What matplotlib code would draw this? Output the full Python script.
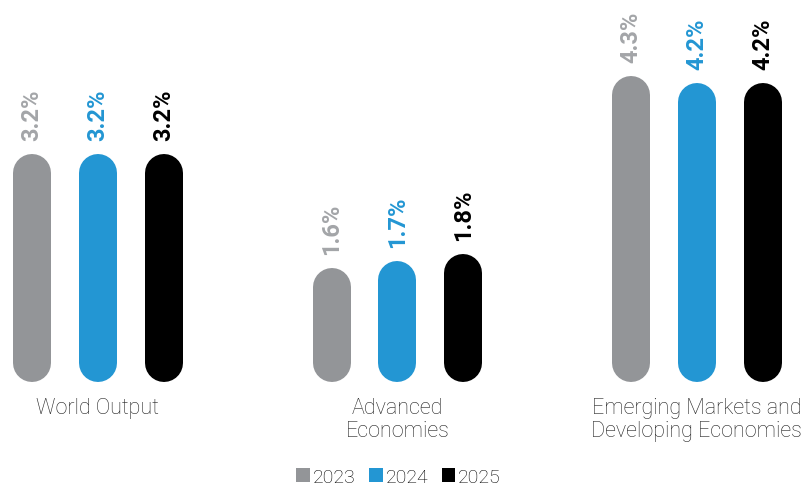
import matplotlib
matplotlib.use("Agg")
import matplotlib.pyplot as plt
from matplotlib.patches import Patch

plt.rcParams['font.family'] = ['Roboto', 'DejaVu Sans']

categories = ['World Output', 'Advanced\nEconomies', 'Emerging Markets and\nDeveloping Economies']
years = ['2023', '2024', '2025']
growth = {
    '2023': [3.2, 1.6, 4.3],
    '2024': [3.2, 1.7, 4.2],
    '2025': [3.2, 1.8, 4.2],
}
bar_colors = ['#939598', '#2396d3', '#000000']
label_colors = ['#a3a5a8', '#2396d3', '#000000']

W, H, DPI = 802, 489, 100
fig = plt.figure(figsize=(W / DPI, H / DPI), dpi=DPI)
ax = fig.add_axes([0, 0.2168, 1, 0.7832])
ax.set_xlim(-0.327, 2.351)
ax.set_ylim(0, 5.38)
ax.axis('off')

# pixel scale so the round caps stay inside the bar height
px_per_y = H * 0.7832 / 5.38
bar_px = 38
r = (bar_px / 2) / px_per_y
offsets = [-0.22, 0.0, 0.22]

for j, yr in enumerate(years):
    for i, v in enumerate(growth[yr]):
        x = i + offsets[j]
        ax.plot([x, x], [r, v - r], color=bar_colors[j], linewidth=bar_px * 72 / DPI,
                solid_capstyle='round')
        ax.text(x, v + 14 / px_per_y, f'{v:.1f}%', rotation=90, ha='center', va='bottom',
                color=label_colors[j], fontsize=17, fontweight='bold')

for i, c in enumerate(categories):
    ax.text(i, -15 / px_per_y, c, ha='center', va='top', fontsize=15.5,
            fontweight='light', color='#222222', linespacing=1.15)

handles = [Patch(facecolor=bar_colors[j], label=yr) for j, yr in enumerate(years)]
fig.legend(handles=handles, loc='lower center', bbox_to_anchor=(0.497, 0.0), ncol=3,
           frameon=False, handlelength=0.7, handleheight=0.7, handletextpad=0.15,
           columnspacing=0.7, borderaxespad=0.0, borderpad=0.1,
           prop={'size': 14, 'weight': 'light'})

fig.savefig('out.png', dpi=DPI)
